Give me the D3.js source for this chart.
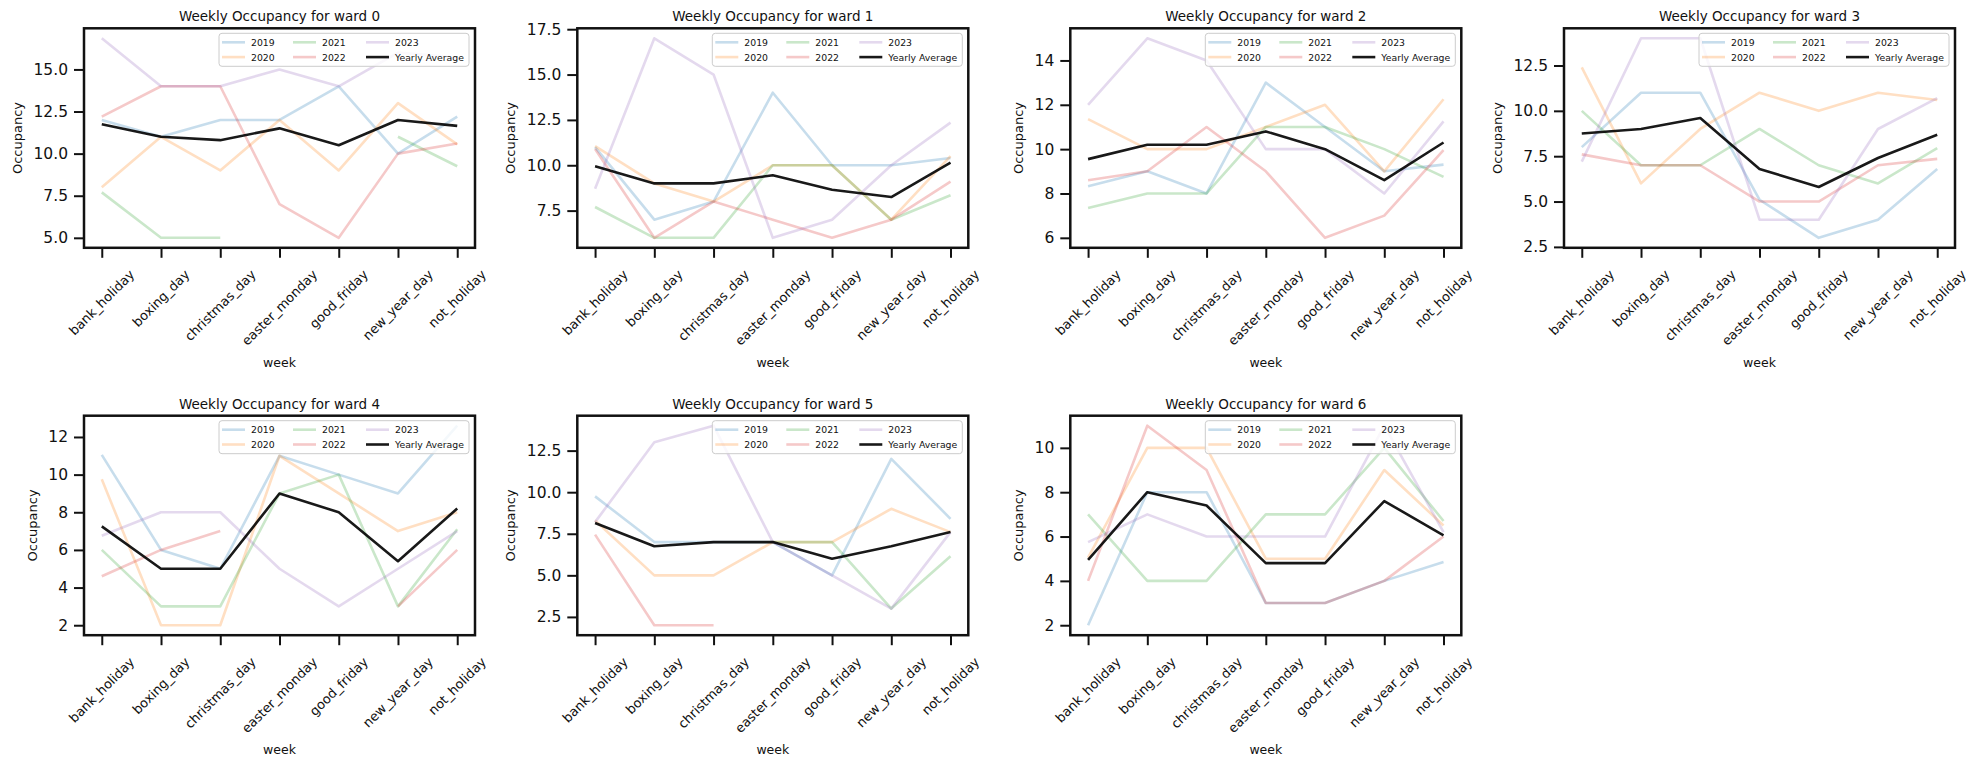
<!DOCTYPE html>
<html><head><meta charset="utf-8">
<script src="https://cdn.jsdelivr.net/npm/d3@7"></script>
<style>body{margin:0;background:#fff;} svg text{font-family:"DejaVu Sans",sans-serif;fill:#111;}</style>
</head><body><svg id="c" width="1979" height="766"></svg>
<script>
const categories = ["bank_holiday","boxing_day","christmas_day","easter_monday","good_friday","new_year_day","not_holiday"];
const years = ["2019","2020","2021","2022","2023"];
const yearColors = ["#1f77b4","#ff7f0e","#2ca02c","#d62728","#9467bd"];

// values per ward: rows = 2019..2023, null = missing
const ward0Series = [
  [12.0, 11, 12, 12, 14, 10, 12.2],
  [8.0, 11, 9, 12, 9, 13, 10.55],
  [7.7, 5, 5, null, null, 11, 9.25],
  [12.2, 14, 14, 7, 5, 10, 10.6],
  [16.85, 14, 14, 15, 14, 16, 15.7]
];
const ward0Avg = [11.75, 11.0, 10.8, 11.5, 10.5, 12.0, 11.65];
const ward0Ticks = [5, 7.5, 10, 12.5, 15];

const ward1Series = [
  [11.0, 7, 8, 14, 10, 10, 10.4],
  [11.05, 9, 8, 10, 10, 7, 10.5],
  [7.7, 6, 6, 10, 10, 7, 8.35],
  [10.9, 6, 8, 7, 6, 7, 9.1],
  [8.7, 17, 15, 6, 7, 10, 12.35]
];
const ward1Avg = [9.95, 9.0, 9.0, 9.45, 8.65, 8.25, 10.15];
const ward1Ticks = [7.5, 10, 12.5, 15, 17.5];

const ward2Series = [
  [8.33, 9, 8, 13, 11, 9, 9.3],
  [11.35, 10, 10, 11, 12, 9, 12.25],
  [7.35, 8, 8, 11, 11, 10, 8.75],
  [8.6, 9, 11, 9, 6, 7, 9.95],
  [12, 15, 14, 10, 10, 8, 11.25]
];
const ward2Avg = [9.55, 10.2, 10.2, 10.8, 10.0, 8.6, 10.3];
const ward2Ticks = [6, 8, 10, 12, 14];

const ward3Series = [
  [8.0, 11, 11, 5.1, 3, 4, 6.8],
  [12.4, 6, 9, 11, 10, 11, 10.6],
  [10.0, 7, 7, 9, 7, 6, 7.95],
  [7.6, 7, 7, 5, 5, 7, 7.35],
  [7.2, 14, 14, 4, 4, 9, 10.7]
];
const ward3Avg = [8.75, 9.0, 9.6, 6.8, 5.8, 7.4, 8.68];
const ward3Ticks = [2.5, 5, 7.5, 10, 12.5];

const ward4Series = [
  [11.05, 6, 5, 11, 10, 9, 12.6],
  [9.75, 2, 2, 11, 9, 7, 8],
  [6, 3, 3, 9, 10, 3, 7.1],
  [4.6, 6, 7, null, null, 3, 6],
  [6.75, 8, 8, 5, 3, 5, 7]
];
const ward4Avg = [7.25, 5, 5, 9, 8, 5.4, 8.2];
const ward4Ticks = [2, 4, 6, 8, 10, 12];

const ward5Series = [
  [9.75, 7, 7, 7, 5, 12, 8.4],
  [8.3, 5, 5, 7, 7, 9, 7.6],
  [null, null, null, 7, 7, 3, 6.15],
  [7.45, 2, 2, null, null, null, null],
  [8.2, 13, 14, 7, 5, 3, 7.6]
];
const ward5Avg = [8.15, 6.75, 7.0, 7.0, 6.0, 6.75, 7.6];
const ward5Ticks = [2.5, 5, 7.5, 10, 12.5];

const ward6Series = [
  [2, 8, 8, 3, 3, 4, 4.85],
  [5.05, 10, 10, 5, 5, 9, 6.5],
  [7, 4, 4, 7, 7, 10, 6.7],
  [4, 11, 9, 3, 3, 4, 6],
  [5.75, 7, 6, 6, 6, 11, 6.2]
];
const ward6Avg = [4.95, 8, 7.4, 4.8, 4.8, 7.6, 6.05];
const ward6Ticks = [2, 4, 6, 8, 10];

const wards = [
  {name: "0", series: ward0Series, avg: ward0Avg, ticks: ward0Ticks},
  {name: "1", series: ward1Series, avg: ward1Avg, ticks: ward1Ticks},
  {name: "2", series: ward2Series, avg: ward2Avg, ticks: ward2Ticks},
  {name: "3", series: ward3Series, avg: ward3Avg, ticks: ward3Ticks},
  {name: "4", series: ward4Series, avg: ward4Avg, ticks: ward4Ticks},
  {name: "5", series: ward5Series, avg: ward5Avg, ticks: ward5Ticks},
  {name: "6", series: ward6Series, avg: ward6Avg, ticks: ward6Ticks}
];

const svg = d3.select("#c");
const lefts = [84, 577.3, 1070.3, 1564];
const tops = [28.3, 415.7];
const W = 391, H = 219.5;

wards.forEach((w, i) => {
  const col = i % 4, row = Math.floor(i / 4);
  const L = lefts[col], T = tops[row];
  const all = w.series.flat().concat(w.avg).filter(v => v != null);
  const mn = d3.min(all), mx = d3.max(all), pad = (mx - mn) * 0.05;
  const y = d3.scaleLinear().domain([mn - pad, mx + pad]).range([T + H, T]);
  const x = d3.scalePoint().domain(categories).range([L, L + W]).padding(0.3);
  const g = svg.append("g");

  const clipId = "clip" + i;
  g.append("clipPath").attr("id", clipId).append("rect")
    .attr("x", L).attr("y", T).attr("width", W).attr("height", H);

  const line = d3.line().defined(d => d != null)
    .x((d, k) => x(categories[k])).y(d => y(d));
  const lg = g.append("g").attr("clip-path", `url(#${clipId})`);
  w.series.forEach((s, k) => {
    lg.append("path").datum(s).attr("d", line)
      .attr("fill", "none").attr("stroke", yearColors[k])
      .attr("stroke-opacity", 0.25).attr("stroke-width", 2.6)
      .attr("stroke-linejoin", "round");
  });
  lg.append("path").datum(w.avg).attr("d", line)
    .attr("fill", "none").attr("stroke", "#000").attr("stroke-opacity", 0.9)
    .attr("stroke-width", 2.6).attr("stroke-linejoin", "round");

  // y axis
  const frac = w.ticks.some(t => t % 1 !== 0);
  const ya = g.append("g").attr("transform", `translate(${L},0)`)
    .call(d3.axisLeft(y).tickValues(w.ticks).tickSize(10).tickPadding(6)
      .tickFormat(t => frac ? t.toFixed(1) : String(t)));
  ya.select(".domain").remove();
  ya.selectAll(".tick line").attr("stroke", "#111").attr("stroke-width", 2);
  ya.selectAll(".tick text").attr("font-size", "15.5px").attr("fill", "#111")
    .attr("font-family", "DejaVu Sans");
  let maxW = 0;
  ya.selectAll(".tick text").each(function(){ maxW = Math.max(maxW, this.getComputedTextLength()); });

  // x axis
  const xa = g.append("g").attr("transform", `translate(0,${T + H})`)
    .call(d3.axisBottom(x).tickSize(10).tickFormat(""));
  xa.select(".domain").remove();
  xa.selectAll(".tick line").attr("stroke", "#111").attr("stroke-width", 2);
  categories.forEach(c => {
    const t = g.append("text").text(c).attr("font-size", "13px")
      .attr("text-anchor", "middle").attr("dominant-baseline", "central");
    const len = t.node().getComputedTextLength();
    const h = 13 * 1.16;
    const half = (len + h) * 0.7071 / 2;
    t.attr("transform", `translate(${x(c)},${T + H + 19 + half}) rotate(-45)`);
  });

  // frame
  g.append("rect").attr("x", L).attr("y", T).attr("width", W).attr("height", H)
    .attr("fill", "none").attr("stroke", "#111").attr("stroke-width", 2.5);

  // title, labels
  g.append("text").attr("x", L + W / 2).attr("y", T - 12)
    .attr("text-anchor", "middle").attr("dominant-baseline", "central")
    .attr("font-size", "13.5px").text("Weekly Occupancy for ward " + w.name);
  g.append("text").attr("transform", `translate(${L - maxW - 32},${T + H / 2}) rotate(-90)`)
    .attr("text-anchor", "middle").attr("dominant-baseline", "central")
    .attr("font-size", "13px").text("Occupancy");
  g.append("text").attr("x", L + W / 2).attr("y", T + H + 114.5)
    .attr("text-anchor", "middle").attr("dominant-baseline", "central")
    .attr("font-size", "12.5px").text("week");

  // legend
  const lgW = 250, lgH = 33;
  const lx = L + W - 6 - lgW, ly = T + 5;
  const leg = g.append("g").attr("transform", `translate(${lx},${ly})`);
  leg.append("rect").attr("width", lgW).attr("height", lgH).attr("rx", 3)
    .attr("fill", "#fff").attr("fill-opacity", 0.8)
    .attr("stroke", "#cccccc").attr("stroke-width", 1);
  const entries = years.map((yr, k) => ({label: yr, color: yearColors[k], op: 0.25}))
    .concat([{label: "Yearly Average", color: "#000", op: 0.9}]);
  const colX = [3, 74, 147];
  entries.forEach((e, k) => {
    const cx = colX[Math.floor(k / 2)], cy = 9 + (k % 2) * 14.8;
    leg.append("line").attr("x1", cx).attr("x2", cx + 23).attr("y1", cy).attr("y2", cy)
      .attr("stroke", e.color).attr("stroke-opacity", e.op).attr("stroke-width", 2.6);
    leg.append("text").attr("x", cx + 29).attr("y", cy).attr("dominant-baseline", "central")
      .attr("font-size", "9.3px").text(e.label);
  });
});
</script></body></html>
